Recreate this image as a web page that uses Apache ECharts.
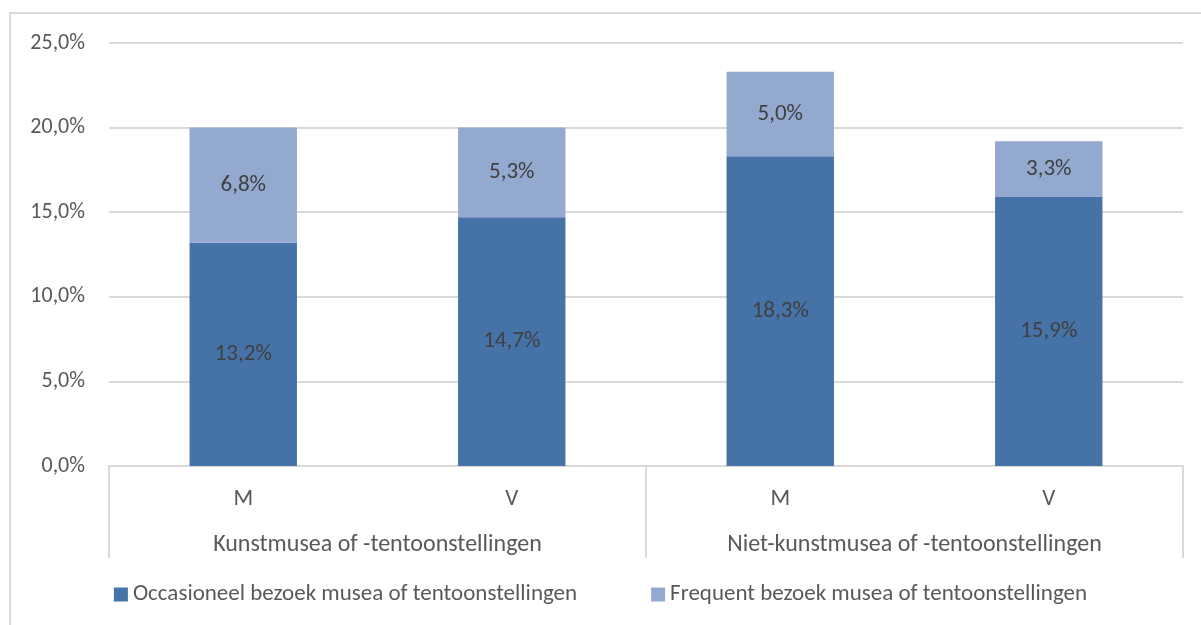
<!DOCTYPE html>
<html>

<head>
    <meta charset="utf-8">
    <script src="https://cdn.jsdelivr.net/npm/echarts@6/dist/echarts.min.js"></script>
    <style>
        html, body { margin: 0; padding: 0; background: #fff; }
        #main { width: 1201px; height: 625px; }
    </style>
</head>

<body>
    <div id="main"></div>
</body>
<script>
    var sexes = ['M', 'V', 'M', 'V'];
    var groups = ['Kunstmusea of -tentoonstellingen', 'Niet-kunstmusea of -tentoonstellingen'];
    var occasioneel = [13.2, 14.7, 18.3, 15.9];
    var frequent = [6.8, 5.3, 5.0, 3.3];
    var names = ['Occasioneel bezoek musea of tentoonstellingen', 'Frequent bezoek musea of tentoonstellingen'];

    var font = 'Calibri, Carlito, "Liberation Sans", sans-serif';
    var grey = '#d9d9d9';

    function pct(v) {
        return v.toFixed(1).replace('.', ',') + '%';
    }

    var myChart = echarts.init(document.getElementById('main'));
    myChart.setOption({
        animation: false,
        textStyle: { fontFamily: font },
        graphic: [{
            type: 'rect',
            shape: { x: 10, y: 13, width: 1200, height: 620 },
            style: { fill: null, stroke: grey, lineWidth: 2 }
        }],
        grid: { left: 109, right: 18, top: 43, bottom: 159 },
        legend: {
            bottom: 14,
            left: 'center',
            icon: 'rect',
            itemWidth: 14,
            itemHeight: 14,
            itemGap: 74,
            textStyle: { color: '#595959', fontSize: 23, fontFamily: font },
            data: names
        },
        xAxis: [{
            type: 'category',
            data: sexes,
            axisLine: { lineStyle: { color: grey, width: 2 } },
            axisTick: { show: false },
            axisLabel: { color: '#595959', fontSize: 23, margin: 22 }
        }, {
            type: 'category',
            position: 'bottom',
            data: groups,
            axisLine: { show: false },
            axisTick: { show: true, length: 92, interval: 0, lineStyle: { color: grey, width: 2 } },
            axisLabel: { color: '#595959', fontSize: 24, margin: 67, interval: 0 }
        }],
        yAxis: {
            type: 'value',
            min: 0,
            max: 25,
            interval: 5,
            axisLine: { show: false },
            axisTick: { show: false },
            splitLine: { lineStyle: { color: grey, width: 2 } },
            axisLabel: {
                color: '#595959', fontSize: 22, margin: 24,
                formatter: function (v) { return pct(v); }
            }
        },
        series: [{
            name: names[0],
            type: 'bar',
            stack: 'total',
            barCategoryGap: '60%',
            data: occasioneel,
            itemStyle: { color: '#4573a7' },
            label: {
                show: true, position: 'inside', color: '#404040', fontSize: 23,
                formatter: function (p) { return pct(p.value); }
            }
        }, {
            name: names[1],
            type: 'bar',
            stack: 'total',
            barCategoryGap: '60%',
            data: frequent,
            itemStyle: { color: '#94a9d0' },
            label: {
                show: true, position: 'inside', color: '#404040', fontSize: 23,
                formatter: function (p) { return pct(p.value); }
            }
        }]
    });
</script>

</html>
